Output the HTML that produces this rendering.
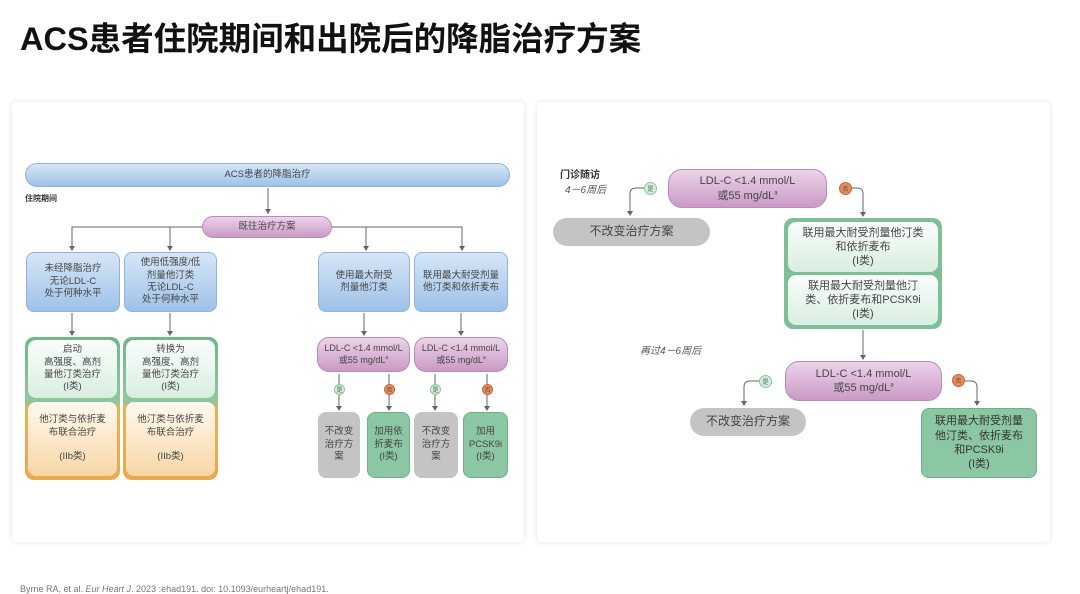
<!DOCTYPE html>
<html><head><meta charset="utf-8"><style>
*{margin:0;padding:0;box-sizing:border-box}
body{width:1080px;height:594px;background:#fff;position:relative;overflow:hidden;font-family:"Liberation Sans","Noto Sans CJK SC",sans-serif;color:#333}
.a{position:absolute}
.panel{position:absolute;background:#fff;box-shadow:0 0 6px rgba(0,0,0,.12);border-radius:4px}
.c{display:flex;align-items:center;justify-content:center;text-align:center;font-size:9.5px;line-height:1.3;color:#444}
.blue{background:linear-gradient(#d6e6f7,#9fc1e8);border:1px solid #8fb3dc;border-radius:8px}
.pink{background:linear-gradient(#ecd3ea,#c99ac5);border:1px solid #bb8ab8;border-radius:12px}
.gray{background:#c4c4c4;border-radius:8px}
.green{background:#8cc7a3;border-radius:8px;border:1px solid #6db08a}
.gin{background:linear-gradient(#fafdfb,#d9eee0);border-radius:8px}
.oin{background:linear-gradient(#fffaf0,#f8d6a4);border-radius:8px}
.dot{position:absolute;width:11px;height:11px;border-radius:50%;font-size:6px;color:#555;display:flex;align-items:center;justify-content:center}
.y{background:#d3eedc;border:1px solid #8cc7a3}
.n{background:#e88a5c;border:1px solid #c9643a}
sup{line-height:0}
</style></head><body>
<div class="a" style="left:20px;top:13px;font-size:32.5px;font-weight:bold;color:#111;white-space:nowrap">ACS患者住院期间和出院后的降脂治疗方案</div>
<div class="panel" style="left:12px;top:102px;width:512px;height:440px"></div>
<div class="panel" style="left:537px;top:102px;width:513px;height:440px"></div>

<svg class="a" style="left:0;top:0" width="1080" height="594">
<g stroke="#666" stroke-width="1" fill="none">
<path d="M268 188V214M202 227H72V250M170 227V250M332 227H462V250M366 227V250"/>
<path d="M72 313V335M170 313V335M364 313V335M461 313V335"/>
<path d="M339 374V410M389 374V410M435 374V410M487 374V410"/>
<path d="M645 188H636Q630 188 630 194V214M851 188H857Q863 188 863 194V216M863 330V359"/>
<path d="M760 381H750Q744 381 744 387V405M963 381H971Q977 381 977 387V405"/>
</g>
<g fill="#666">
<path d="M268 214l-3-5h6zM72 251l-3-5h6zM170 251l-3-5h6zM366 251l-3-5h6zM462 251l-3-5h6zM72 336l-3-5h6zM170 336l-3-5h6zM364 336l-3-5h6zM461 336l-3-5h6z"/>
<path d="M339 411l-3-5h6zM389 411l-3-5h6zM435 411l-3-5h6zM487 411l-3-5h6zM630 216l-3-5h6zM863 217l-3-5h6zM863 360l-3-5h6zM744 406l-3-5h6zM977 406l-3-5h6z"/>
</g>
</svg>

<div class="a c blue" style="left:25px;top:163px;width:485px;height:24px;border-radius:12px"><div>ACS患者的降脂治疗</div></div>
<div class="a" style="left:25px;top:193px;font-size:8px;font-weight:bold">住院期间</div>
<div class="a c pink" style="left:202px;top:216px;width:130px;height:22px"><div>既往治疗方案</div></div>

<div class="a c blue" style="left:26px;top:252px;width:94px;height:60px"><div>未经降脂治疗<br>无论LDL-C<br>处于何种水平</div></div>
<div class="a c blue" style="left:124px;top:252px;width:93px;height:60px"><div>使用低强度/低<br>剂量他汀类<br>无论LDL-C<br>处于何种水平</div></div>
<div class="a c blue" style="left:318px;top:252px;width:92px;height:60px"><div>使用最大耐受<br>剂量他汀类</div></div>
<div class="a c blue" style="left:414px;top:252px;width:94px;height:60px"><div>联用最大耐受剂量<br>他汀类和依折麦布</div></div>

<div class="a" style="left:25px;top:337px;width:95px;height:143px;border-radius:9px;background:linear-gradient(#6db88b 0,#8fc79b 45%,#e9b05a 50%,#e9a94f 100%)"></div>
<div class="a c gin" style="left:28px;top:340px;width:89px;height:58px"><div>启动<br>高强度、高剂<br>量他汀类治疗<br>(I类)</div></div>
<div class="a c oin" style="left:28px;top:402px;width:89px;height:74px"><div>他汀类与依折麦<br>布联合治疗<br><br>(IIb类)</div></div>
<div class="a" style="left:123px;top:337px;width:95px;height:143px;border-radius:9px;background:linear-gradient(#6db88b 0,#8fc79b 45%,#e9b05a 50%,#e9a94f 100%)"></div>
<div class="a c gin" style="left:126px;top:340px;width:89px;height:58px"><div>转换为<br>高强度、高剂<br>量他汀类治疗<br>(I类)</div></div>
<div class="a c oin" style="left:126px;top:402px;width:89px;height:74px"><div>他汀类与依折麦<br>布联合治疗<br><br>(IIb类)</div></div>

<div class="a c pink" style="left:317px;top:337px;width:93px;height:35px;font-size:9px"><div>LDL-C &lt;1.4 mmol/L<br>或55 mg/dL<sup style="font-size:5px">a</sup></div></div>
<div class="a c pink" style="left:414px;top:337px;width:94px;height:35px;font-size:9px"><div>LDL-C &lt;1.4 mmol/L<br>或55 mg/dL<sup style="font-size:5px">a</sup></div></div>
<div class="dot y" style="left:334px;top:384px">是</div>
<div class="dot n" style="left:384px;top:384px">否</div>
<div class="dot y" style="left:430px;top:384px">是</div>
<div class="dot n" style="left:482px;top:384px">否</div>
<div class="a c gray" style="left:318px;top:412px;width:42px;height:66px"><div>不改变<br>治疗方<br>案</div></div>
<div class="a c green" style="left:367px;top:412px;width:43px;height:66px"><div>加用依<br>折麦布<br>(I类)</div></div>
<div class="a c gray" style="left:414px;top:412px;width:44px;height:66px"><div>不改变<br>治疗方<br>案</div></div>
<div class="a c green" style="left:463px;top:412px;width:45px;height:66px"><div>加用<br>PCSK9i<br>(I类)</div></div>

<div class="a" style="left:560px;top:166px;font-size:10px;font-weight:bold">门诊随访</div>
<div class="a" style="left:565px;top:181px;font-size:10px;font-style:italic;color:#555">4－6周后</div>
<div class="a c pink" style="left:668px;top:169px;width:159px;height:39px;border-radius:14px;font-size:11px"><div>LDL-C &lt;1.4 mmol/L<br>或55 mg/dL<sup style="font-size:6px">a</sup></div></div>
<div class="dot y" style="left:644px;top:182px;width:13px;height:13px">是</div>
<div class="dot n" style="left:839px;top:182px;width:13px;height:13px">否</div>
<div class="a c gray" style="left:553px;top:218px;width:157px;height:28px;border-radius:14px;font-size:12px"><div>不改变治疗方案</div></div>
<div class="a" style="left:784px;top:218px;width:158px;height:111px;border-radius:9px;background:#7fbf97"></div>
<div class="a c gin" style="left:788px;top:222px;width:150px;height:50px;font-size:11px"><div>联用最大耐受剂量他汀类<br>和依折麦布<br>(I类)</div></div>
<div class="a c gin" style="left:788px;top:275px;width:150px;height:50px;font-size:11px"><div>联用最大耐受剂量他汀<br>类、依折麦布和PCSK9i<br>(I类)</div></div>
<div class="a" style="left:640px;top:342px;font-size:10px;font-style:italic;color:#555">再过4－6周后</div>
<div class="a c pink" style="left:785px;top:361px;width:157px;height:40px;border-radius:14px;font-size:11px"><div>LDL-C &lt;1.4 mmol/L<br>或55 mg/dL<sup style="font-size:6px">a</sup></div></div>
<div class="dot y" style="left:759px;top:375px;width:13px;height:13px">是</div>
<div class="dot n" style="left:952px;top:374px;width:13px;height:13px">否</div>
<div class="a c gray" style="left:690px;top:408px;width:116px;height:28px;border-radius:14px;font-size:12px"><div>不改变治疗方案</div></div>
<div class="a c green" style="left:921px;top:408px;width:116px;height:70px;font-size:11px;color:#333"><div>联用最大耐受剂量<br>他汀类、依折麦布<br>和PCSK9i<br>(I类)</div></div>

<div class="a" style="left:20px;top:584px;font-size:9px;color:#777">Byrne RA, et al. <i>Eur Heart J</i>. 2023 :ehad191. doi: 10.1093/eurheartj/ehad191.</div>
</body></html>
